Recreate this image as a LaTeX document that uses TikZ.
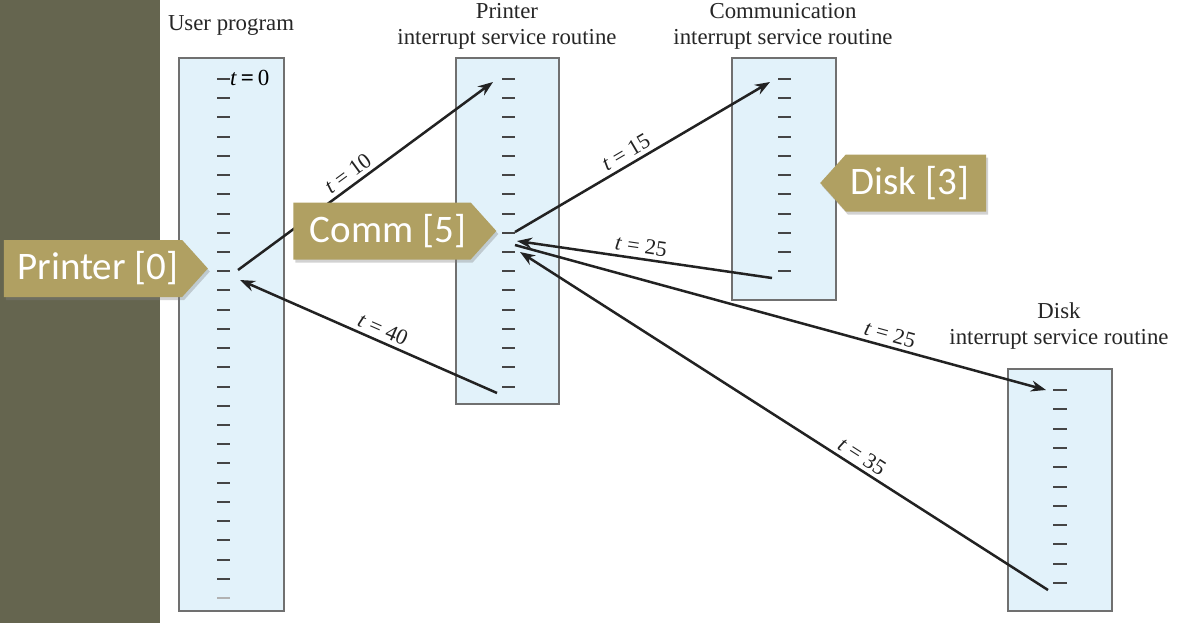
\documentclass[tikz,border=0pt]{standalone}
\usepackage{fontspec}
\setmainfont{Liberation Serif}
\newfontfamily\callfont{Carlito}
\usetikzlibrary{arrows.meta,shapes.symbols,shadows}
\definecolor{panel}{HTML}{65654F}
\definecolor{callout}{HTML}{B0A062}
\definecolor{boxfill}{HTML}{E2F2FA}
\definecolor{boxline}{HTML}{707070}
\definecolor{tickc}{HTML}{454545}
\definecolor{arrc}{HTML}{222222}
\tikzset{
  isrbox/.style={draw=boxline, line width=1.8pt, fill=boxfill, inner sep=0pt},
  tickmark/.style={draw=tickc, line width=2pt},
  flow/.style={draw=arrc, line width=2.5pt, -{Stealth[length=15pt,width=11pt]}},
  tlabel/.style={font=\fontsize{22}{24}\selectfont, sloped, above=2pt, inner sep=2pt, text=arrc},
  title/.style={font=\fontsize{22.8}{26}\selectfont, align=center, text=black!85, inner sep=0pt},
  callbox/.style={shape=signal, fill=callout, text=white, font=\callfont\fontsize{39}{41}\selectfont,
    minimum height=57pt, inner ysep=0pt, signal pointer angle=96,
    drop shadow={opacity=0.35, shadow xshift=2pt, shadow yshift=-3pt}},
}
\begin{document}
\begin{tikzpicture}[x=1pt,y=-1pt]
\useasboundingbox (0,0) rectangle (1193,623);
\fill[white] (0,0) rectangle (1193,623);
\fill[panel] (0,0) rectangle (160,623);

% boxes
\node[isrbox, minimum width=105pt, minimum height=553pt] (user) at (231.5,334.5) {};
\node[isrbox, minimum width=103pt, minimum height=346pt] (prn) at (507.5,231) {};
\node[isrbox, minimum width=104pt, minimum height=242pt] (com) at (784,179) {};
\node[isrbox, minimum width=104pt, minimum height=242pt] (dsk) at (1060,490) {};

% titles
\node[title] (tuser) at (231,25) {User program};
\node[title] (tprn) at (507,26.5) {Printer\\interrupt service routine};
\node[title] (tcom) at (783,26.5) {Communication\\interrupt service routine};
\node[title] (tdsk) at (1059,326) {Disk\\interrupt service routine};

% ticks
\foreach \k in {0,...,26} \draw[tickmark] (217,{round(79+19.22*\k)}) -- ++(13,0);
\draw[tickmark, draw=black!30] (217,{round(79+19.22*27)}) -- ++(13,0);
\foreach \k in {0,...,16} \draw[tickmark] (502,{round(79+19.22*\k)}) -- ++(13,0);
\foreach \k in {0,...,10} \draw[tickmark] (778,{round(79+19.22*\k)}) -- ++(13,0);
\foreach \k in {0,...,10} \draw[tickmark] (1053,{round(390+19.3*\k)}) -- ++(14,0);

\node[anchor=west, inner sep=0pt, font=\fontsize{23}{25}\selectfont] (tzero) at (230,78) {\textit{t}\,\textbf{=}\,0};

% arrow end points
\coordinate (uOut) at (238,270);
\coordinate (uIn) at (240,280);
\coordinate (pIn1) at (493,82);
\coordinate (pOut2) at (515,232);
\coordinate (pIn3) at (517,241);
\coordinate (pOut4) at (515,245);
\coordinate (pIn5) at (520,252);
\coordinate (pOut6) at (497,393);
\coordinate (cIn) at (770,82);
\coordinate (cOut) at (772,278);
\coordinate (dIn) at (1046,390);
\coordinate (dOut) at (1048,590);

% arrows
\draw[flow] (uOut) -- node[tlabel, pos=0.46] {\textit{t} = 10} (pIn1);
\draw[flow] (pOut2) -- node[tlabel, pos=0.46] {\textit{t} = 15} (cIn);
\draw[flow] (cOut) -- node[tlabel, pos=0.52] {\textit{t} = 25} (pIn3);
\draw[flow] (pOut4) -- node[tlabel, pos=0.70] {\textit{t} = 25} (dIn);
\draw[flow] (dOut) -- node[tlabel, pos=0.365] {\textit{t} = 35} (pIn5);
\draw[flow] (pOut6) -- node[tlabel, pos=0.463] {\textit{t} = 40} (uIn);

% callouts
\node[callbox, signal to=east, minimum width=204pt] (cPrinter) at (93,268.5) {\hspace*{10pt}Printer [0]};
\node[callbox, signal to=east, minimum width=203pt] (cComm) at (382,231) {\hspace*{12pt}Comm [5]};
\node[callbox, signal to=west, minimum width=166pt] (cDisk) at (916,183) {Disk [3]\hspace*{12pt}};
\end{tikzpicture}
\end{document}
